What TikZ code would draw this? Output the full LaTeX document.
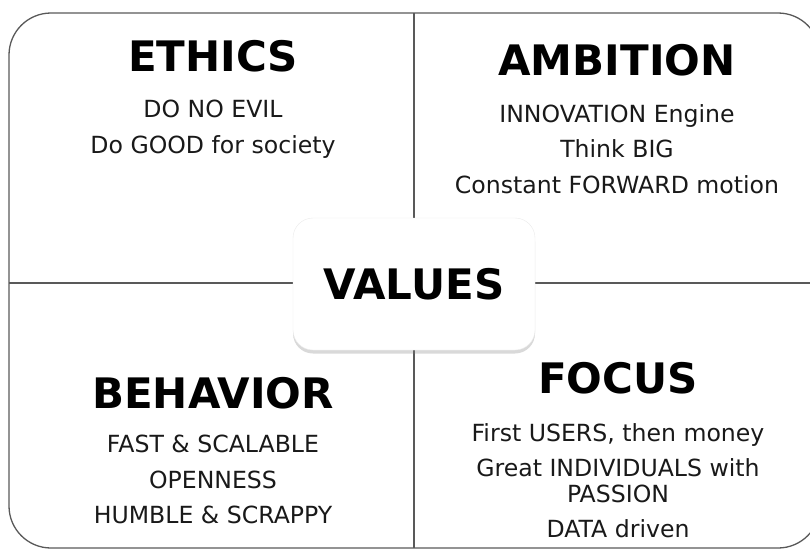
\documentclass[tikz,border=0pt]{standalone}
\usepackage{fontspec}
\setmainfont{DejaVu Sans}
\usetikzlibrary{positioning,shadows}

\tikzset{
  heading/.style={inner sep=0pt, font=\fontsize{42}{46}\selectfont\bfseries},
  points/.style={inner sep=0pt, align=center, text=black!90,
    font=\fontsize{23.6}{25.5}\selectfont},
  frame/.style={draw=black!65, line width=1.3pt},
  hub/.style={fill=white, draw=black!8, rounded corners=20pt,
    minimum width=242pt, minimum height=132pt,
    drop shadow={opacity=0.3, shadow xshift=0pt, shadow yshift=-3.5pt},
    font=\fontsize{42}{46}\selectfont\bfseries},
}

\begin{document}
\begin{tikzpicture}[x=1pt, y=-1pt]
  \useasboundingbox (0,0) rectangle (810,549);
  \clip (0,0) rectangle (810,549);

  % outer frame and the two dividers
  \draw[frame, rounded corners=42pt] (9,13) rectangle (820,548);
  \coordinate (top) at (414,13);
  \coordinate (bottom) at (414,548);
  \coordinate (left) at (9,283);
  \coordinate (right) at (820,283);
  \draw[frame] (top) -- (bottom);
  \draw[frame] (left) -- (right);

  % centre
  \node[hub] (values) at (414,284) {VALUES};

  % quadrants
  \node[heading] (ethics) at (213,56) {ETHICS};
  \node[points, below=28pt of ethics] (ethicspts)
    {DO NO EVIL\\[10pt] Do GOOD for society};

  \node[heading] (ambition) at (617,60) {AMBITION};
  \node[points, below=28pt of ambition] (ambitionpts)
    {INNOVATION Engine\\[10pt] Think BIG\\[10pt] Constant FORWARD motion};

  \node[heading] (behavior) at (213,393) {BEHAVIOR};
  \node[points, below=26pt of behavior] (behaviorpts)
    {FAST \& SCALABLE\\[10pt] OPENNESS\\[10pt] HUMBLE \& SCRAPPY};

  \node[heading] (focus) at (618,378) {FOCUS};
  \node[points, below=29pt of focus] (focuspts)
    {First USERS, then money\\[10pt] Great INDIVIDUALS with\\ PASSION\\[10pt] DATA driven};
\end{tikzpicture}
\end{document}
